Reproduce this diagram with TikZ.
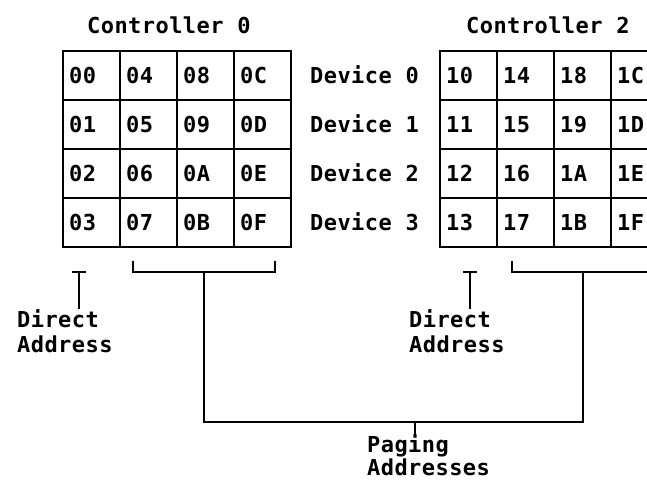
\documentclass[tikz,border=0pt]{standalone}
\usepackage{fontspec}
\newfontfamily\ibmfont{DejaVu Sans Mono}[LetterSpace=2]

\begin{document}
\begin{tikzpicture}[x=1pt, y=-1pt, line width=2.4pt,
    label text/.style={font=\ibmfont\bfseries\fontsize{22}{26}\selectfont, inner sep=0pt, anchor=base west},
    grid line/.style={line width=2.8pt, line cap=rect}]
        \useasboundingbox (0,0) rectangle (647,480);
        \clip (0,0) rectangle (647,480);

        % Controller titles
        \node[label text] (ctl0) at (86,33) {Controller 0};
        \node[label text] (ctl2) at (465,33) {Controller 2};

        % Address grids (4 x 4 cells)
        \foreach \gx in {63, 440} {
            \foreach \k in {0,...,4} {
                \draw[grid line] (\gx+57*\k,51) -- (\gx+57*\k,247);
                \draw[grid line] (\gx,51+49*\k) -- (\gx+228,51+49*\k);
            }
        }

        % Cell addresses
        \foreach \gx/\g/\hi in {63/0/0, 440/2/1} {
            \foreach \lo [count=\i from 0] in {0,1,2,3,4,5,6,7,8,9,A,B,C,D,E,F} {
                \pgfmathtruncatemacro\col{\i/4}
                \pgfmathtruncatemacro\row{mod(\i,4)}
                \node[label text] (c\g-\hi\lo) at (\gx+5+57*\col, 83+49*\row) {\hi\lo};
            }
        }

        % Device labels between the grids
        \foreach \d in {0,...,3}
            \node[label text] (dev\d) at (309, 83+49*\d) {Device \d};

        % Direct address markers
        \foreach \tx/\lx/\g in {79/16/0, 470/408/2} {
            \coordinate (dt\g_top) at (\tx,272);
            \draw (dt\g_top) ++(-7,0) -- ++(14,0);
            \draw (dt\g_top) -- ++(0,37);
            \node[label text] (dir\g) at (\lx,327) {Direct};
            \node[label text] (addr\g) at (\lx,352) {Address};
        }

        % Paging brackets
        \coordinate (pg0_l) at (133,261);
        \coordinate (pg0_r) at (275,261);
        \coordinate (pg0_mid) at (204,272);
        \draw (pg0_l) -- ++(0,11) -| (pg0_r);
        \coordinate (pg2_l) at (512,261);
        \coordinate (pg2_r) at (654,261);
        \coordinate (pg2_mid) at (583,272);
        \draw (pg2_l) -- ++(0,11) -| (pg2_r);

        % Join to paging addresses
        \coordinate (join_m) at (415,422);
        \draw (pg0_mid) |- (join_m) -| (pg2_mid);
        \draw (join_m) -- ++(0,14);
        \node[label text] (paging) at (366,452) {Paging};
        \node[label text] (pgaddr) at (366,475) {Addresses};
    \end{tikzpicture}
\end{document}
